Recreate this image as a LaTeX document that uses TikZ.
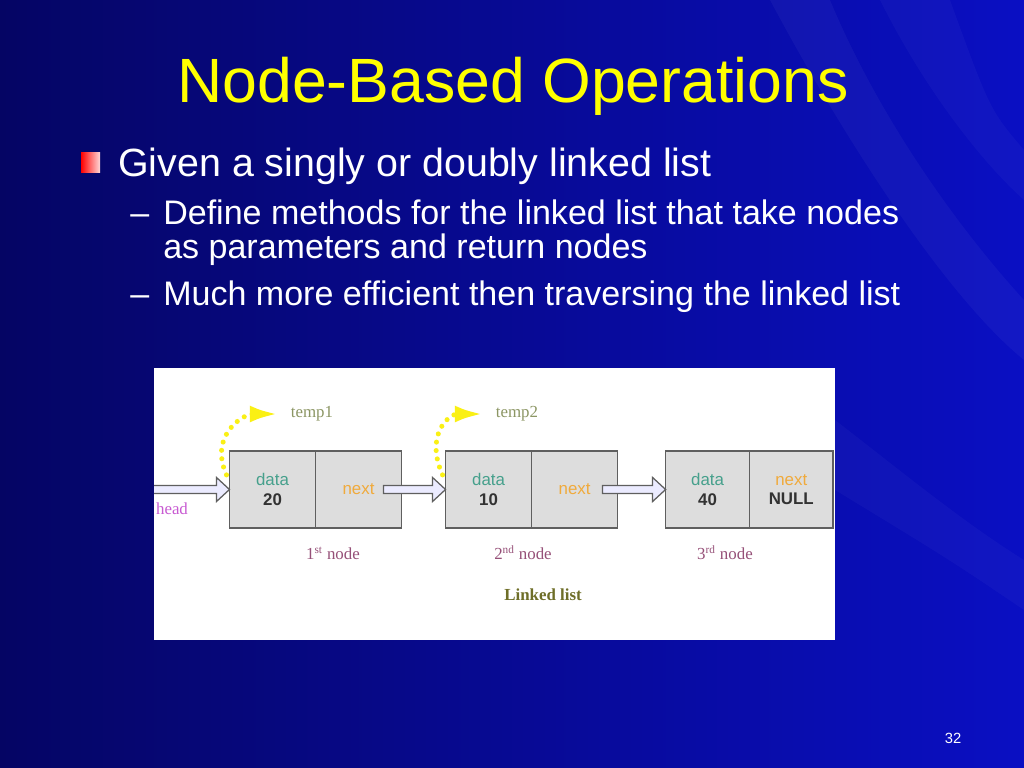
\documentclass[tikz,border=0pt]{standalone}
\usepackage{fontspec}
\setmainfont{Liberation Sans}
\newfontfamily\imgserif{Liberation Serif}
\usetikzlibrary{arrows.meta,positioning,calc}
\definecolor{slideDark}{RGB}{5,5,100}
\definecolor{slideLight}{RGB}{10,15,195}
\definecolor{titleYellow}{RGB}{255,255,0}
\definecolor{cellGray}{RGB}{221,221,221}
\definecolor{cellEdge}{RGB}{95,95,95}
\definecolor{valGray}{RGB}{50,50,50}
\definecolor{dataTeal}{RGB}{70,160,140}
\definecolor{nextOrange}{RGB}{240,170,60}
\definecolor{headPink}{RGB}{200,90,210}
\definecolor{tempOlive}{RGB}{140,150,100}
\definecolor{ordMaroon}{RGB}{150,80,120}
\definecolor{listOlive}{RGB}{110,110,40}
\definecolor{ptrYellow}{RGB}{250,240,20}

% fat outlined arrow from (#1) to its tip at (#2)
\newcommand{\hollowarrow}[2]{%
  \draw[hollow] ($(#1)+(0,-4)$) -- ($(#2)+(-13,-4)$) -- ($(#2)+(-13,-12)$) -- (#2)
    -- ($(#2)+(-13,12)$) -- ($(#2)+(-13,4)$) -- ($(#1)+(0,4)$) -- cycle;}

\begin{document}
\begin{tikzpicture}[x=0.025cm, y=-0.025cm,
    cell/.style={rectangle, draw=cellEdge, fill=cellGray, line width=1.1pt,
                 minimum width=2.15cm, minimum height=1.93cm, outer sep=0pt,
                 inner sep=0pt, align=center, text=valGray,
                 font=\fontsize{12}{14}\selectfont},
    imgtxt/.style={font=\imgserif\fontsize{12}{14}\selectfont},
    hollow/.style={draw=cellEdge, fill=white!92!blue, line width=0.9pt},
    tmp/.style={ptrYellow, line width=3.6pt, dash pattern=on 0pt off 6pt,
                line cap=round, shorten >=0.2cm,
                -{Latex[length=0.7cm, width=0.42cm]}},
    bodytxt/.style={white, anchor=base west, inner sep=0pt}
  ]
  % slide background
  \shade[left color=slideDark, right color=slideLight] (0,0) rectangle (1024,768);
  \fill[white, opacity=0.04] (770,0) .. controls (850,150) and (950,300) .. (1024,360)
    -- (1024,300) .. controls (960,230) and (880,120) .. (830,0) -- cycle;
  \fill[white, opacity=0.03] (880,0) .. controls (930,100) and (990,170) .. (1024,200)
    -- (1024,150) .. controls (990,110) .. (950,0) -- cycle;
  \fill[white, opacity=0.03] (835,420) .. controls (900,470) and (960,520) .. (1024,560)
    -- (1024,610) .. controls (950,560) .. (835,490) -- cycle;
  \useasboundingbox (0,0) rectangle (1024,768);

  % title and bullets
  \node[titleYellow, anchor=base, font=\fontsize{44.5}{50}\selectfont] (title)
    at (513,103) {Node-Based Operations};
  \shade[left color=red, right color=red!15!white] (81,153) rectangle (100,172);
  \node[bodytxt, font=\fontsize{28}{32}\selectfont] (lvl1) at (118,177)
    {Given a singly or doubly linked list};
  \node[bodytxt, font=\fontsize{24.2}{28}\selectfont] (dash1) at (130,224) {--};
  \node[bodytxt, font=\fontsize{24.2}{28}\selectfont] (sub1) at (163,224)
    {Define methods for the linked list that take nodes};
  \node[bodytxt, font=\fontsize{24.2}{28}\selectfont] (sub1b) at (163,258)
    {as parameters and return nodes};
  \node[bodytxt, font=\fontsize{24.2}{28}\selectfont] (dash2) at (130,305) {--};
  \node[bodytxt, font=\fontsize{24.2}{28}\selectfont] (sub2) at (163,305)
    {Much more efficient then traversing the linked list};
  \node[white, font=\fontsize{10.5}{12}\selectfont] (pgnum) at (953,738) {32};

  % linked list picture
  \fill[white] (154,368) rectangle (835,640);
  \begin{scope}
  \clip (154,368) rectangle (836,640);
  \node[cell] (n1data) at (272.5,489.5) {\textcolor{dataTeal}{data}\\\textbf{20}};
  \node[cell, right=0pt of n1data] (n1next) {\textcolor{nextOrange}{next}};
  \node[cell, right=1.1cm of n1next] (n2data) {\textcolor{dataTeal}{data}\\\textbf{10}};
  \node[cell, right=0pt of n2data] (n2next) {\textcolor{nextOrange}{next}};
  \node[cell, minimum width=2.1cm, right=1.2cm of n2next] (n3data)
    {\textcolor{dataTeal}{data}\\\textbf{40}};
  \node[cell, minimum width=2.08cm, right=0pt of n3data] (n3next)
    {\textcolor{nextOrange}{next}\\\textbf{NULL}};

  \coordinate (headtail) at (150,489.5);
  \coordinate (a1) at ($(n1next.east)+(-18,0)$);
  \coordinate (a2) at ($(n2next.east)+(-15,0)$);
  \hollowarrow{headtail}{n1data.west}
  \hollowarrow{a1}{n2data.west}
  \hollowarrow{a2}{n3data.west}
  \node[imgtxt, headPink] (headlbl) at (172,509) {head};

  \node[imgtxt, tempOlive] (temp1) at (312,414) {temp1};
  \node[imgtxt, tempOlive] (temp2) at (517,414) {temp2};
  \coordinate (t1foot) at ($(n1data.north west)+(-3,24)$);
  \coordinate (t2foot) at ($(n2data.north west)+(-3,24)$);
  \draw[tmp] (t1foot) .. controls +(-18,-40) and +(-42,0) .. (temp1.west);
  \draw[tmp] (t2foot) .. controls +(-18,-40) and +(-42,0) .. (temp2.west);

  \node[imgtxt, ordMaroon] (ord1) at (333,553) {1\textsuperscript{st} node};
  \node[imgtxt, ordMaroon] (ord2) at (523,553) {2\textsuperscript{nd} node};
  \node[imgtxt, ordMaroon] (ord3) at (725,553) {3\textsuperscript{rd} node};
  \node[imgtxt, listOlive, font=\imgserif\bfseries\fontsize{12}{14}\selectfont]
    (caption) at (543,595) {Linked list};
  \end{scope}
\end{tikzpicture}
\end{document}
